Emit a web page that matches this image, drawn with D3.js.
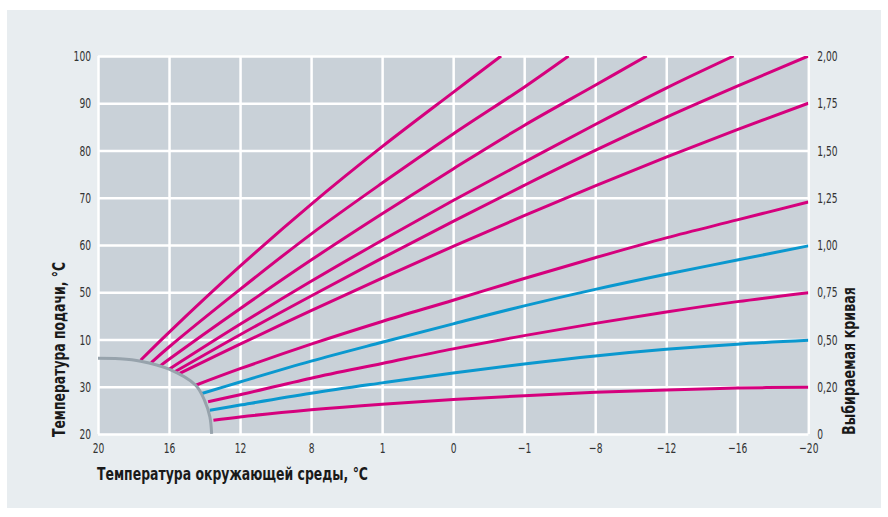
<!DOCTYPE html>
<html>
<head>
<meta charset="utf-8">
<script src="https://cdn.jsdelivr.net/npm/d3@7"></script>
<style>
  body { margin: 0; background: #fff; }
  .tick-label { font-family: 'DejaVu Sans Condensed', 'Liberation Sans Narrow', sans-serif; font-size: 14.5px; fill: #333; }
  .axis-name { font-family: 'DejaVu Sans Condensed', 'Liberation Sans Narrow', sans-serif; font-size: 17px; font-weight: bold; fill: #1a1a1a; }
</style>
</head>
<body>
<div id="chart"></div>
<script>
// Axis ticks and their labels (labels kept as printed)
const xTicks = [20, 16, 12, 8, 4, 0, -4, -8, -12, -16, -20];
const xTickLabels = ['20', '16', '12', '8', '1', '0', '−1', '−8', '−12', '−16', '−20'];
const yTicks = [100, 90, 80, 70, 60, 50, 40, 30, 20];
const yTickLabels = ['100', '90', '80', '70', '60', '50', '10', '30', '20'];
const curveTickLabels = ['2,00', '1,75', '1,50', '1,25', '1,00', '0,75', '0,50', '0,20', '0'];

// Heating curves: [outdoor temp, flow temp]
const curve1 = [[17.6, 35.6], [16, 41.5], [12, 55.5], [8, 68.6], [4, 80.8], [0, 92.3], [-2.7, 100]];
const curve2 = [[17.0, 35.1], [16, 38.4], [12, 50.6], [8, 62.3], [4, 73.1], [0, 83.5], [-4, 93.4], [-6.5, 100]];
const curve3 = [[16.5, 34.4], [16, 35.8], [12, 46.5], [8, 56.8], [4, 66.6], [0, 76.1], [-4, 85.3], [-8, 93.8], [-10.9, 100]];
const curve4 = [[16, 33.7], [12, 43.2], [8, 52.3], [4, 61], [0, 69.4], [-4, 77.5], [-8, 85.5], [-12, 93.2], [-15.8, 100]];
const curve5 = [[15.7, 33.1], [12, 41], [8, 49.2], [4, 57.2], [0, 65], [-4, 72.6], [-8, 80], [-12, 87], [-16, 93.6], [-20, 100]];
const curve6 = [[15.4, 32.8], [12, 39], [8, 46.1], [4, 53], [0, 59.7], [-4, 66.2], [-8, 72.5], [-12, 78.6], [-16, 84.4], [-20, 90]];
const curve7 = [[14.5, 30.3], [12, 33.8], [8, 39], [4, 43.8], [0, 48.3], [-4, 52.9], [-8, 57.3], [-12, 61.5], [-16, 65.3], [-20, 69.1]];
const curve8 = [[14.2, 28.5], [12, 31], [8, 35.4], [4, 39.4], [0, 43.3], [-4, 47.1], [-8, 50.6], [-12, 53.8], [-16, 56.8], [-20, 59.8]];
const curve9 = [[13.8, 26.8], [12, 28.3], [8, 31.8], [4, 34.9], [0, 38], [-4, 40.8], [-8, 43.4], [-12, 45.8], [-16, 48], [-20, 49.9]];
const curve10 = [[13.7, 25], [12, 26.1], [8, 28.6], [4, 30.8], [0, 32.9], [-4, 34.8], [-8, 36.5], [-12, 37.9], [-16, 39], [-20, 39.8]];
const curve11 = [[13.5, 22.9], [12, 23.6], [8, 25.1], [4, 26.3], [0, 27.3], [-4, 28.1], [-8, 28.8], [-12, 29.3], [-16, 29.7], [-20, 29.9]];
const curves = [curve1, curve2, curve3, curve4, curve5, curve6, curve7, curve8, curve9, curve10, curve11];

// Grey boundary arc (summer cut-off)
const limitArc = [[20, 36], [18.8, 35.9], [17.6, 35.4], [16, 33.7], [14.5, 30.3], [14, 27.1], [13.7, 23.6], [13.6, 20]];

// Styles
const pink = '#d5007d';
const blue = '#0a98cf';
const curveColors = [pink, pink, pink, pink, pink, pink, pink, blue, pink, blue, pink];
const narrow = 0.7;

// Dimensions
const W = 888, H = 517;
const margin = { top: 56, right: 80, bottom: 84, left: 98 };
const width = 710.3;
const height = 377.9;

const root = d3.select('#chart').append('svg')
    .attr('width', W)
    .attr('height', H);

// Panel background
root.append('rect')
    .attr('x', 7).attr('y', 10)
    .attr('width', 874).attr('height', 498)
    .attr('fill', '#e8edf0');

const svg = root.append('g')
    .attr('transform', `translate(${margin.left}, ${margin.top})`);

// Scales
const xScale = d3.scaleLinear().domain([20, -20]).range([0, width]);
const yScale = d3.scaleLinear().domain([20, 100]).range([height, 0]);

// Plot area
svg.append('rect')
    .attr('width', width).attr('height', height)
    .attr('fill', '#c9d1d8');

// Grid: vertical
svg.append('g')
    .attr('transform', `translate(0, ${height})`)
    .call(d3.axisBottom(xScale).tickValues(xTicks).tickSize(-height).tickFormat(''))
    .call(g => g.select('.domain').remove())
    .call(g => g.selectAll('line').attr('stroke', '#fff').attr('stroke-width', 2.5));

// Grid: horizontal
svg.append('g')
    .call(d3.axisLeft(yScale).tickValues(yTicks).tickSize(-width).tickFormat(''))
    .call(g => g.select('.domain').remove())
    .call(g => g.selectAll('line').attr('stroke', '#fff').attr('stroke-width', 2.5));

// squeeze tick labels to look condensed
const condense = g => g.selectAll('text')
    .attr('class', 'tick-label').attr('fill', null)
    .attr('x', function() { return (+this.getAttribute('x') || 0) / narrow; })
    .attr('transform', `scale(${narrow}, 1)`);

// Tick labels via axes (no lines)
svg.append('g')
    .attr('transform', `translate(0, ${height})`)
    .call(d3.axisBottom(xScale).tickValues(xTicks).tickSize(0).tickPadding(9)
        .tickFormat((d, i) => xTickLabels[i]))
    .call(g => g.select('.domain').remove())
    .call(condense);

svg.append('g')
    .call(d3.axisLeft(yScale).tickValues(yTicks).tickSize(0).tickPadding(7)
        .tickFormat((d, i) => yTickLabels[i]))
    .call(g => g.select('.domain').remove())
    .call(condense);

svg.append('g')
    .attr('transform', `translate(${width}, 0)`)
    .call(d3.axisRight(yScale).tickValues(yTicks).tickSize(0).tickPadding(9)
        .tickFormat((d, i) => curveTickLabels[i]))
    .call(g => g.select('.domain').remove())
    .call(condense);

// Clip curves to plot
svg.append('clipPath').attr('id', 'plot-clip')
    .append('rect').attr('width', width).attr('height', height);

const line = d3.line()
    .x(d => xScale(d[0]))
    .y(d => yScale(d[1]))
    .curve(d3.curveCatmullRom.alpha(0.5));

svg.append('g')
    .attr('clip-path', 'url(#plot-clip)')
    .selectAll('path')
    .data(curves)
    .enter().append('path')
    .attr('d', line)
    .attr('fill', 'none')
    .attr('stroke', (d, i) => curveColors[i])
    .attr('stroke-width', 3);

// Boundary arc
svg.append('path')
    .datum(limitArc)
    .attr('d', line)
    .attr('fill', 'none')
    .attr('stroke', '#97a3ac')
    .attr('stroke-width', 3);

// Axis names
root.append('text')
    .attr('class', 'axis-name')
    .attr('x', 97).attr('y', 480)
    .attr('textLength', 271).attr('lengthAdjust', 'spacingAndGlyphs')
    .text('Температура окружающей среды, °C');

root.append('text')
    .attr('class', 'axis-name')
    .attr('transform', 'translate(65, 437) rotate(-90)')
    .attr('textLength', 175).attr('lengthAdjust', 'spacingAndGlyphs')
    .text('Температура подачи, °C');

root.append('text')
    .attr('class', 'axis-name')
    .attr('transform', 'translate(855, 435) rotate(-90)')
    .attr('textLength', 148).attr('lengthAdjust', 'spacingAndGlyphs')
    .text('Выбираемая кривая');
</script>
</body>
</html>
